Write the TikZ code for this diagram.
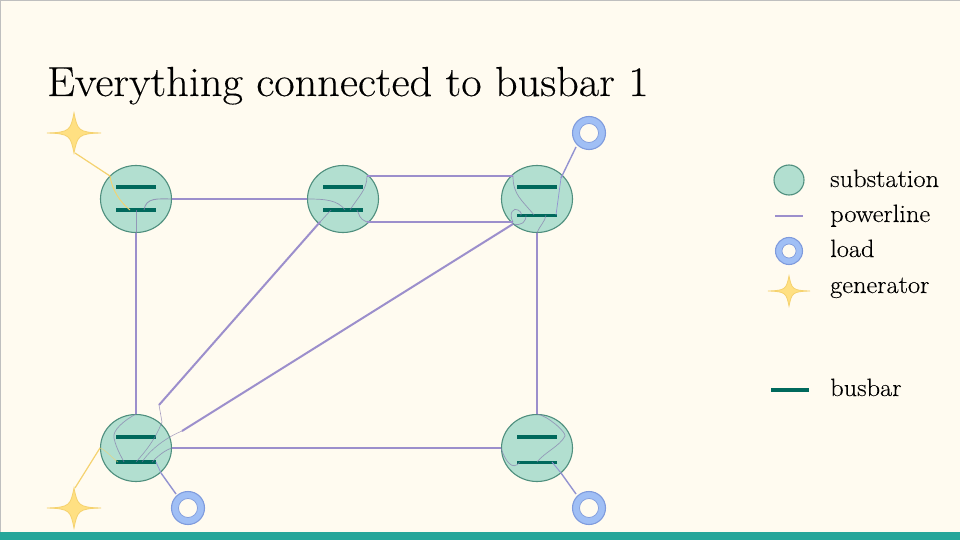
\documentclass[tikz,border=0pt]{standalone}
\usepackage{fontspec}
\usetikzlibrary{shapes.geometric,calc}
\newfontfamily\oldf{Latin Modern Roman}[FakeStretch=1.055,FakeBold=0.25]
\definecolor{bgc}{HTML}{FFFBF0}
\definecolor{band}{HTML}{26A69A}
\definecolor{subf}{HTML}{B2DFD0}
\definecolor{subd}{HTML}{4F8F7E}
\definecolor{busc}{HTML}{00695C}
\definecolor{linec}{HTML}{9C8FCC}
\definecolor{loadf}{HTML}{A0BFF5}
\definecolor{loadd}{HTML}{7F9BDD}
\definecolor{genf}{HTML}{FFE082}
\definecolor{gend}{HTML}{F5D26E}
\tikzset{
 x=1pt,y=-1pt,
 substation/.style={ellipse,draw=subd,fill=subf,line width=1.1pt,minimum width=71pt,minimum height=67pt,inner sep=0pt},
 busbar/.style={rectangle,fill=busc,minimum width=40pt,minimum height=3.4pt,inner sep=0pt},
 power/.style={draw=linec,line width=2pt},
 inner/.style={draw=linec!85!black,line width=.7pt,opacity=.7},
 loadwire/.style={draw=linec!70!loadd,line width=1.4pt},
 genwire/.style={draw=gend,line width=1.2pt},
 loadring/.style={circle,draw=loadd,fill=loadf,line width=1.1pt,minimum size=33pt,inner sep=0pt},
 loadhole/.style={circle,draw=loadd,fill=bgc,line width=.7pt,minimum size=19pt,inner sep=0pt},
 label/.style={anchor=base west,inner sep=0pt,text=black,font=\oldf\fontsize{25}{25}\selectfont},
 star/.style={draw=gend,fill=genf,line width=.8pt}
}
\newcommand{\genstar}[5]{% name x y halfwidth halfheight
 \coordinate (#1) at (#2,#3);
 \draw[star] ($(#1)+(-#4,0)$) .. controls ($(#1)+(-.15*#4,-.03*#5)$) and ($(#1)+(-.13*#4,-.15*#5)$) .. ($(#1)+(0,-#5)$)
   .. controls ($(#1)+(.13*#4,-.15*#5)$) and ($(#1)+(.15*#4,-.03*#5)$) .. ($(#1)+(#4,0)$)
   .. controls ($(#1)+(.15*#4,.03*#5)$) and ($(#1)+(.13*#4,.15*#5)$) .. ($(#1)+(0,#5)$)
   .. controls ($(#1)+(-.13*#4,.15*#5)$) and ($(#1)+(-.15*#4,.03*#5)$) .. cycle;
}
\begin{document}
\begin{tikzpicture}
\useasboundingbox (0,0) rectangle (960,540);
\fill[bgc] (0,0) rectangle (960,540);
\draw[black!25,line width=1pt] (0.5,532) -- (0.5,0.5) -- (960,0.5);
\fill[band] (0,532) rectangle (960,540);
\node[anchor=base west,inner sep=0pt,text=black,font=\oldf\fontsize{42}{42}\selectfont] (title) at (47,96) {Everything connected to busbar 1};

% generators and loads
\genstar{g1}{74}{133}{27}{20}
\genstar{g2}{74}{508}{27}{20}
\node[loadring] (l1) at (589,133) {};
\node[loadhole] (h1) at (589,133) {};
\node[loadring] (l2) at (188,508) {};
\node[loadhole] (h2) at (188,508) {};
\node[loadring] (l3) at (589,508) {};
\node[loadhole] (h3) at (589,508) {};

% substations
\node[substation] (s1) at (136,199) {};
\node[substation] (s2) at (343,199) {};
\node[substation] (s3) at (537,199) {};
\node[substation] (s4) at (136,448) {};
\node[substation] (s5) at (537,448) {};

% busbars
\node[busbar] (b1a) at (136,187) {};
\node[busbar] (b1b) at (136,210) {};
\node[busbar] (b2a) at (343,187) {};
\node[busbar] (b2b) at (343,210) {};
\node[busbar] (b3a) at (537,187) {};
\node[busbar] (b3b) at (537,215.5) {};
\node[busbar] (b4a) at (136,437) {};
\node[busbar] (b4b) at (136,462) {};
\node[busbar] (b5a) at (537,437) {};
\node[busbar] (b5b) at (537,462.5) {};

% free bends
\coordinate (d24) at (159,405);
\coordinate (d34) at (182,431);
\coordinate (a1) at (367,176);
\coordinate (a2) at (513,176);
\coordinate (c1) at (367,222);
\coordinate (c2) at (513,222);
\coordinate (e1) at (320,222);
\coordinate (f1) at (513,224);

% powerlines
\draw[power] (s1.east) -- (s2.west);
\draw[power] (s1.south) -- (s4.north);
\draw[power] (a1) -- (a2);
\draw[power] (c1) -- (c2);
\draw[power] (e1) -- (d24);
\draw[power] (f1) -- (d34);
\draw[power] (s4.east) -- (s5.west);
\draw[power] (s3.south) -- (s5.north);

% load and generator wires
\draw[loadwire] (l1) ++(-13,14) coordinate (w1) -- (561,178) coordinate (w1b);
\draw[loadwire] (l2) ++(-12,-14) coordinate (w2) -- (161,473) coordinate (w2b);
\draw[loadwire] (l3) ++(-13,-14) coordinate (w3) -- (561,473) coordinate (w3b);
\draw[genwire] (g1) ++(1,20) coordinate (x1) -- (110,176) coordinate (x1b);
\draw[genwire] (g2) ++(1,-20) coordinate (x2) -- (100,448) coordinate (x2b);

% internal wiring, substation 1
\draw[genwire,line width=.9pt] (x1b) .. controls (112,190) and (120,202) .. (130,210);
\draw[inner,line width=.9pt] (s1.east) .. controls (158,199) and (146,197) .. (144,210);
\draw[inner,line width=.9pt] (s1.south) -- (136,210);
% substation 2
\draw[inner] (s2.west) .. controls (325,199) and (338,200) .. (345,210);
\draw[inner] (a1) .. controls (367,190) and (358,197) .. (350,210);
\draw[inner] (c1) .. controls (358,218) and (360,215) .. (357,210);
\draw[inner] (e1) -- (331,210);
% substation 3
\draw[inner] (a2) .. controls (513,195) and (522,200) .. (534,215);
\draw[inner] (c2) .. controls (508,213) and (514,207) .. (518,210) .. controls (522,212) and (522,216) .. (520,215);
\draw[inner] (f1) .. controls (522,226) and (526,222) .. (526,215);
\draw[inner] (s3.south) .. controls (540,225) and (545,222) .. (546,215);
\draw[loadwire,line width=.7pt] (w1b) -- (556,215);
% substation 4
\draw[inner] (s4.north) .. controls (125,420) and (112,430) .. (114,438) .. controls (116,448) and (122,458) .. (124,462);
\draw[inner,line width=.6pt] (d24) -- (162,422);
\draw[inner,line width=.6pt] (162,422) .. controls (155,440) and (145,452) .. (136,462);
\draw[inner,line width=.6pt] (d34) .. controls (165,438) and (150,450) .. (142,462);
\draw[inner] (s4.east) .. controls (165,450) and (158,456) .. (152,462);
\draw[loadwire,line width=.8pt] (w2b) -- (156,462);
\draw[genwire,line width=.7pt,opacity=.6] (x2b) .. controls (106,450) and (112,458) .. (118,462);
% substation 5
\draw[inner] (s5.north) .. controls (548,416) and (566,432) .. (565,436) .. controls (560,446) and (545,452) .. (537,462);
\draw[inner] (s5.west) .. controls (505,460) and (512,472) .. (520,462);
\draw[loadwire,line width=.9pt] (w3b) -- (552,462);

% legend
\node[substation,minimum width=30pt,minimum height=30pt] (ks) at (789,180) {};
\coordinate (kl1) at (775,216);
\coordinate (kl2) at (803,216);
\draw[draw=linec,line width=1.2pt] (kl1) -- (kl2);
\node[loadring,minimum size=27pt] (kr) at (789,251) {};
\node[loadhole,minimum size=14pt] (kh) at (789,251) {};
\genstar{kg}{789}{291}{21}{15}
\node[busbar,minimum width=38pt] (kb) at (789.5,390) {};
\node[label] (t1) at (830,187) {substation};
\node[label] (t2) at (830,222) {powerline};
\node[label] (t3) at (830,257) {load};
\node[label] (t4) at (830,293) {generator};
\node[label] (t5) at (830,396) {busbar};
\end{tikzpicture}
\end{document}
